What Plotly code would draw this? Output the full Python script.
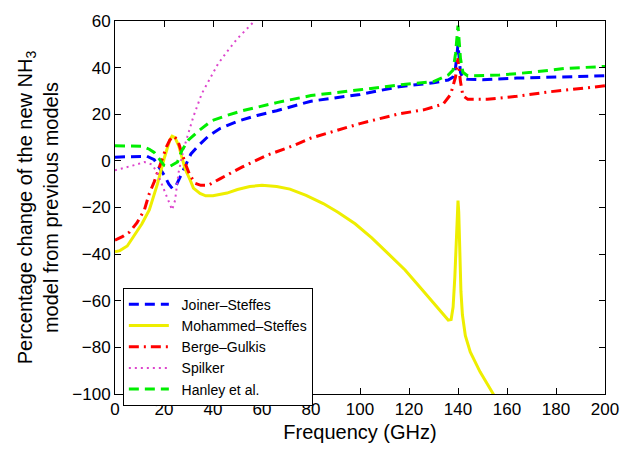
import plotly.graph_objects as go

# ---- data ----
js_x = [0, 5, 10, 13, 16, 18, 20, 22, 23.5, 25, 27, 29, 31, 34, 38, 43, 50, 58, 66, 80, 100, 116, 130, 136, 138, 139, 140, 141, 142, 144, 150, 164, 178, 200]
js_y = [1.6, 1.8, 2.2, 2.0, 0.5, -2.5, -6, -10, -12, -10.5, -6, -1, 3, 6.5, 10.5, 14, 17, 19.5, 21.5, 25.6, 28.5, 31.8, 33.5, 34.7, 36, 40, 50, 38, 35.5, 35, 34.8, 35.5, 36, 36.5]

ms_x = [0, 2, 5, 8, 11, 14, 17.3, 20, 22.4, 23.3, 24.5, 26, 28.6, 30.6, 32, 34.7, 37, 40, 45.7, 50, 55, 60, 66, 71.4, 78, 85, 91, 98, 104.8, 111.6, 118.4, 125.2, 132, 134.5, 136, 137.2, 138, 138.7, 139.3, 139.7, 140, 140.3, 140.7, 141.2, 141.8, 143, 145, 149, 154.4, 158]
ms_y = [-39, -38.5, -36.5, -32, -27, -21, -10, 0.8, 9, 10.6, 10, 6.5, -3.4, -8, -11.7, -14, -15, -15, -13.8, -12.3, -11, -10.5, -11, -12.1, -14.8, -18.3, -22, -27, -33, -39.9, -46.8, -55.1, -63.4, -66.5, -68.3, -68, -62.7, -50, -32, -20, -17, -22, -40, -56, -66, -75, -82, -90.5, -100, -106]

bg_x = [0, 3, 6, 9, 12, 14, 16, 17.5, 19, 21, 22.4, 24, 25.5, 27.3, 29, 30.5, 32.7, 35, 38, 43, 52, 62, 72.7, 80, 90, 100, 116, 126, 134, 137, 139, 140, 141, 142, 144, 152, 164, 178, 200]
bg_y = [-34, -32.5, -30.5, -26.5, -21, -14, -9, -4.7, 0.5, 6, 9, 10.6, 9, 3, -2, -6, -9.6, -10.5, -10.5, -7.6, -2.6, 2.4, 6.5, 9.8, 13, 16, 20.2, 21.9, 24.4, 28.5, 36, 44, 34, 28, 26.4, 26.4, 27.7, 29.7, 32.2]

sp_x = [0, 4, 8, 12, 15, 17, 19, 21, 22.5, 23.3, 24.5, 26, 28, 30, 32, 35.4, 38.8, 42, 45.6, 50, 56.2, 62]
sp_y = [-4, -3, -1.8, -0.5, -1.5, -4.5, -10, -15, -19, -21, -17, -4.7, 5, 12, 19, 28.8, 35.5, 41.5, 46.7, 52.5, 59.2, 66]

ha_x = [0, 5, 11, 14, 16, 18, 20, 22, 24, 25.5, 27.3, 30, 34.3, 39.6, 45.7, 52, 66, 80, 100, 116, 130, 136, 138, 139, 140, 141, 142, 144, 157, 170, 184, 200]
ha_y = [6.5, 6.5, 6.3, 5, 3.6, 1, -1.9, -2.6, -1.5, -0.5, 4.5, 9, 13, 17.3, 19.5, 21.5, 25, 28, 30.5, 32.6, 34, 36.8, 39, 46, 58, 44, 38, 36.4, 36.8, 38, 39.7, 40.5]

x_ticks = [0, 20, 40, 60, 80, 100, 120, 140, 160, 180, 200]
y_ticks = [-100, -80, -60, -40, -20, 0, 20, 40, 60]

series_names = ["Joiner–Steffes", "Mohammed–Steffes", "Berge–Gulkis", "Spilker", "Hanley et al."]
series = [
    (series_names[0], js_x, js_y, "#0000ff", 3, "10px,6px"),
    (series_names[1], ms_x, ms_y, "#eeee00", 3, "solid"),
    (series_names[2], bg_x, bg_y, "#ff0000", 3, "10px,5px,2px,5px"),
    (series_names[3], sp_x, sp_y, "#dd44cc", 2, "2px,4px"),
    (series_names[4], ha_x, ha_y, "#00ee00", 3, "10px,6px"),
]

fig = go.Figure()
for name, xs, ys, col, w, dash in series:
    fig.add_trace(go.Scatter(x=xs, y=ys, mode="lines", name="\u00a0\u00a0" + name,
                             line=dict(color=col, width=w, dash=dash)))

font = "Liberation Sans, Arial, Helvetica, sans-serif"
axis_common = dict(showline=True, linecolor="black", linewidth=1, mirror="ticks",
                   ticks="inside", ticklen=6, tickcolor="black", tickwidth=1,
                   showgrid=False, zeroline=False,
                   tickfont=dict(family=font, size=17, color="black"))

fig.update_layout(
    width=633, height=451,
    margin=dict(l=115, r=28, t=14, b=51),
    paper_bgcolor="white", plot_bgcolor="white",
    font=dict(family=font, color="black"),
    xaxis=dict(range=[0, 200], tickvals=x_ticks,
               title=dict(text="Frequency (GHz)", font=dict(family=font, size=20), standoff=6),
               **axis_common),
    yaxis=dict(range=[-100, 60], tickvals=y_ticks,
               title=dict(text="Percentage change of the new NH<sub>3</sub><br>model from previous models",
                          font=dict(family=font, size=20), standoff=8),
               **axis_common),
    legend=dict(x=0.016, y=0.285, xanchor="left", yanchor="top",
                bgcolor="white", bordercolor="black", borderwidth=1,
                font=dict(family=font, size=14, color="black"),
                tracegroupgap=0, itemwidth=40),
    showlegend=True,
)

fig.write_html("out.html")
